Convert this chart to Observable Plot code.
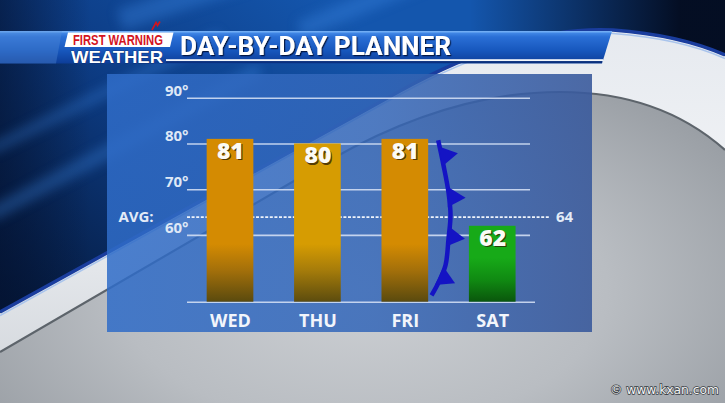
<!DOCTYPE html>
<html>
<head>
<meta charset="utf-8">
<script src="https://cdn.jsdelivr.net/npm/d3@7"></script>
<script src="https://cdn.jsdelivr.net/npm/@observablehq/plot@0.6"></script>
<style>
  html, body { margin: 0; padding: 0; background: #000; }
  #wrap { position: relative; width: 725px; height: 403px; overflow: hidden; font-family: "Open Sans", sans-serif; }
  #bg, #chart { position: absolute; left: 0; top: 0; }
  #chart svg { display: block; }
</style>
</head>
<body>
<div id="wrap">
<svg id="bg" width="725" height="403" viewBox="0 0 725 403">
  <defs>
    <radialGradient id="grayRad" cx="0.5" cy="0.72" r="0.75">
      <stop offset="0" stop-color="#cdd0d4"/>
      <stop offset="0.45" stop-color="#b9bdc2"/>
      <stop offset="0.8" stop-color="#9ba0a6"/>
      <stop offset="1" stop-color="#858b92"/>
    </radialGradient>
    <linearGradient id="ringG" gradientUnits="userSpaceOnUse" x1="0" y1="0" x2="0" y2="360">
      <stop offset="0" stop-color="#e4e8ee"/>
      <stop offset="0.5" stop-color="#f0f2f5"/>
      <stop offset="1" stop-color="#d6dadf"/>
    </linearGradient>
    <linearGradient id="navyG" gradientUnits="userSpaceOnUse" x1="330" y1="0" x2="40" y2="330">
      <stop offset="0" stop-color="#1456ad"/>
      <stop offset="0.45" stop-color="#0d3d86"/>
      <stop offset="1" stop-color="#05183a"/>
    </linearGradient>
    <linearGradient id="darkRight" gradientUnits="userSpaceOnUse" x1="470" y1="0" x2="680" y2="0">
      <stop offset="0" stop-color="#030a1c" stop-opacity="0"/>
      <stop offset="1" stop-color="#030a1c" stop-opacity="0.95"/>
    </linearGradient>
    <linearGradient id="darkLeft" gradientUnits="userSpaceOnUse" x1="0" y1="0" x2="90" y2="0">
      <stop offset="0" stop-color="#041230" stop-opacity="0.6"/>
      <stop offset="1" stop-color="#041230" stop-opacity="0"/>
    </linearGradient>
    <linearGradient id="hdrG" x1="0" y1="0" x2="0" y2="1">
      <stop offset="0" stop-color="#4d94ee"/>
      <stop offset="0.18" stop-color="#2a6fd6"/>
      <stop offset="0.6" stop-color="#1757bd"/>
      <stop offset="1" stop-color="#0d3d98"/>
    </linearGradient>
    <linearGradient id="panelG" x1="0" y1="0" x2="1" y2="0">
      <stop offset="0" stop-color="#2f6cc8" stop-opacity="0.85"/>
      <stop offset="0.55" stop-color="#3366b8" stop-opacity="0.85"/>
      <stop offset="1" stop-color="#3a5a9c" stop-opacity="0.9"/>
    </linearGradient>
    <clipPath id="navyClip">
      <path d="M0,313 L400,92 Q520,26 613,31 Q680,36 725,56 L725,0 L0,0 Z"/>
    </clipPath>
    <filter id="blur6"><feGaussianBlur stdDeviation="6"/></filter>
    <filter id="shadow" x="-10%" y="-20%" width="130%" height="160%">
      <feDropShadow dx="1.2" dy="1.2" stdDeviation="0.6" flood-color="#001030" flood-opacity="0.85"/>
    </filter>
  </defs>

  <!-- gray base -->
  <rect width="725" height="403" fill="url(#grayRad)"/>
  <!-- silver ring -->
  <path d="M0,352 L330,160 Q450,92 560,92 Q660,92 725,150 L725,0 L0,0 Z" fill="url(#ringG)"/>
  <path d="M0,352 L330,160 Q450,92 560,92 Q660,92 725,150" fill="none" stroke="#5d646b" stroke-width="2.2"/>
  <!-- navy field -->
  <path d="M0,313 L400,92 Q520,26 613,31 Q680,36 725,56 L725,0 L0,0 Z" fill="url(#navyG)"/>
  <g clip-path="url(#navyClip)">
    <rect width="725" height="403" fill="url(#darkRight)"/>
    <rect width="725" height="403" fill="url(#darkLeft)"/>
    <g filter="url(#blur6)" opacity="0.35" stroke="#3f8ae6" fill="none">
      <path d="M-10,215 L260,70" stroke-width="14"/>
      <path d="M-10,150 L220,35" stroke-width="10"/>
      <path d="M120,20 L300,-40" stroke-width="22"/>
      <path d="M300,30 L470,-40" stroke-width="18"/>
    </g>
  </g>
  <!-- ring rim -->
  <path d="M0,315.5 L400,94.5 Q520,28.5 613,33.5 Q680,38.5 725,58.5" fill="none" stroke="#a9c4ec" stroke-width="1.5"/>
  <path d="M0,312 L400,91 Q520,25 613,30 Q680,35 725,55" fill="none" stroke="#1a3d9e" stroke-width="3.5"/>

  <!-- panel -->
  <rect x="107" y="74" width="485" height="258" fill="url(#panelG)"/>

  <!-- header bar -->
  <polygon points="0,31 612,31 602,63.5 0,63.5" fill="url(#hdrG)"/>
  <rect x="0" y="31" width="612" height="1.5" fill="#7ab4f6" opacity="0.8"/>
  <polygon points="0,31 62,31 56,63.5 0,63.5" fill="#5a8fd8" opacity="0.35"/>
  <rect x="166" y="59.2" width="437" height="2" fill="#f2f6fb"/>
  <rect x="166" y="61.2" width="436" height="1.6" fill="#0a2d78"/>
  <!-- logo -->
  <polygon points="68,32.5 173.5,32.5 170,47 64.5,47" fill="#ffffff"/>
  <path d="M152,30 L156,22.5 L157.5,25.5 L160,21.5" fill="none" stroke="#d4141e" stroke-width="1.6"/>
  <text x="73" y="44.6" font-family="'Liberation Sans', Arial, sans-serif" font-weight="700" font-size="14.6" fill="#d4141e" textLength="90" lengthAdjust="spacingAndGlyphs">FIRST WARNING</text>
  <text x="71" y="62.8" font-family="'Liberation Sans', Arial, sans-serif" font-weight="700" font-size="16.6" fill="#ffffff" stroke="#0a2050" stroke-width="0.6" paint-order="stroke" textLength="92" lengthAdjust="spacingAndGlyphs">WEATHER</text>
  <!-- title -->
  <text x="180" y="55" font-family="Roboto, 'Open Sans', sans-serif" font-weight="700" font-size="25" fill="#ffffff" textLength="271" lengthAdjust="spacingAndGlyphs" filter="url(#shadow)">DAY-BY-DAY PLANNER</text>
  <!-- watermark -->
  <text x="610" y="393.5" font-family="'DejaVu Sans', sans-serif" font-size="12" fill="#f5f5f5" stroke="#3a3f45" stroke-width="1.4" paint-order="stroke" textLength="109" lengthAdjust="spacingAndGlyphs">© www.kxan.com</text>
</svg>
<div id="chart"></div>
</div>

<script>
// ---- data ----
const days = ["WED", "THU", "FRI", "SAT"];
const highs = [81, 80, 81, 62];
const avgHigh = 64;
const yTicks = [60, 70, 80, 90];
const yFloor = 45.4;
const yCeil = 90;
// cold front path (x in day-index units, y in degrees)
const frontX = [2.376, 2.437, 2.494, 2.517, 2.494, 2.460, 2.380, 2.300];
const frontY = [80.8, 75.3, 69.4, 64.4, 59.3, 53.5, 49.7, 46.9];
// cold front barbs
const barbX = [2.470, 2.556, 2.550, 2.448];
const barbY = [77.5, 68.3, 59.6, 50.6];

// ---- styles ----
const barFills = ["url(#gOrange)", "url(#gGold)", "url(#gOrange)", "url(#gGreen)"];
const barbRotate = [80, 92, 98, 115];
const halfBar = 0.267;
const frontBlue = "#1414c4";

const bars = days.map((day, i) => ({i, day, temp: highs[i]}));
const front = frontX.map((x, i) => ({x, y: frontY[i]}));
const barbs = barbX.map((x, i) => ({x, y: barbY[i], rot: barbRotate[i]}));

const chart = Plot.plot({
  width: 725,
  height: 403,
  marginLeft: 187,
  marginRight: 195,
  marginTop: 97.7,
  marginBottom: 101.3,
  style: {background: "transparent", overflow: "visible", fontFamily: "'Open Sans', sans-serif"},
  x: {domain: [-0.492, 3.432], axis: null},
  y: {domain: [yFloor, yCeil], axis: null},
  color: {type: "identity"},
  marks: [
    Plot.ruleY(yTicks, {stroke: "#d2def3", strokeWidth: 1.6, strokeOpacity: 0.9}),
    Plot.ruleY([yFloor], {stroke: "#d2def3", strokeWidth: 1.6, strokeOpacity: 0.9, insetRight: -5}),
    Plot.ruleY([avgHigh], {stroke: "#eef3fb", strokeWidth: 1.8, strokeDasharray: "3,1.6", insetRight: -20}),
    Plot.text(yTicks, {y: d => d, text: d => `${d}°`, frameAnchor: "left", textAnchor: "end", dx: 1, dy: -7.5,
      fill: "#dfe8f6", fontSize: 15, fontWeight: 700}),
    Plot.text([avgHigh], {y: d => d, text: () => "AVG:", frameAnchor: "left", textAnchor: "middle", dx: -51.5,
      fill: "#e3ebf7", fontSize: 15, fontWeight: 700}),
    Plot.text([avgHigh], {y: d => d, text: d => `${d}`, frameAnchor: "right", textAnchor: "middle", dx: 34,
      fill: "#e3ebf7", fontSize: 15, fontWeight: 700}),
    Plot.rect(bars, {x1: d => d.i - halfBar, x2: d => d.i + halfBar, y1: yFloor, y2: "temp",
      fill: d => barFills[d.i]}),
    Plot.text(bars, {x: "i", y: "temp", text: d => `${d.temp}`, dy: 13.3, dx: 1.3, lineAnchor: "middle",
      fill: "#2a1c04", fillOpacity: 0.75, fontSize: 23, fontWeight: 800}),
    Plot.text(bars, {x: "i", y: "temp", text: d => `${d.temp}`, dy: 12, lineAnchor: "middle",
      fill: "#fbfbf6", fontSize: 23, fontWeight: 800}),
    Plot.text(bars, {x: "i", y: yFloor, text: "day", dy: 19, lineAnchor: "middle",
      fill: "#f2f5fb", fontSize: 18, fontWeight: 700}),
    Plot.line(front, {x: "x", y: "y", curve: "catmull-rom", stroke: frontBlue, strokeWidth: 4.5, strokeLinecap: "butt"}),
    Plot.dot(barbs, {x: "x", y: "y", symbol: "triangle", r: 7.5, fill: frontBlue, stroke: "none", rotate: "rot"})
  ]
});

// bar gradients, anchored to the y scale
const ys = chart.scale("y");
const g0 = ys.apply(58), g1 = ys.apply(yFloor), gg0 = ys.apply(55);
const defs = document.createElementNS("http://www.w3.org/2000/svg", "defs");
defs.innerHTML = `
  <linearGradient id="gOrange" gradientUnits="userSpaceOnUse" x1="0" x2="0" y1="${g0}" y2="${g1}">
    <stop offset="0" stop-color="#d48b02"/><stop offset="0.45" stop-color="#a4700a"/><stop offset="1" stop-color="#5a4a0e"/>
  </linearGradient>
  <linearGradient id="gGold" gradientUnits="userSpaceOnUse" x1="0" x2="0" y1="${g0}" y2="${g1}">
    <stop offset="0" stop-color="#d69c02"/><stop offset="0.45" stop-color="#a67c0a"/><stop offset="1" stop-color="#5c4c0e"/>
  </linearGradient>
  <linearGradient id="gGreen" gradientUnits="userSpaceOnUse" x1="0" x2="0" y1="${gg0}" y2="${g1}">
    <stop offset="0" stop-color="#17aa18"/><stop offset="0.5" stop-color="#108a12"/><stop offset="1" stop-color="#0a560c"/>
  </linearGradient>`;
chart.insertBefore(defs, chart.firstChild);

document.getElementById("chart").appendChild(chart);
</script>
</body>
</html>
